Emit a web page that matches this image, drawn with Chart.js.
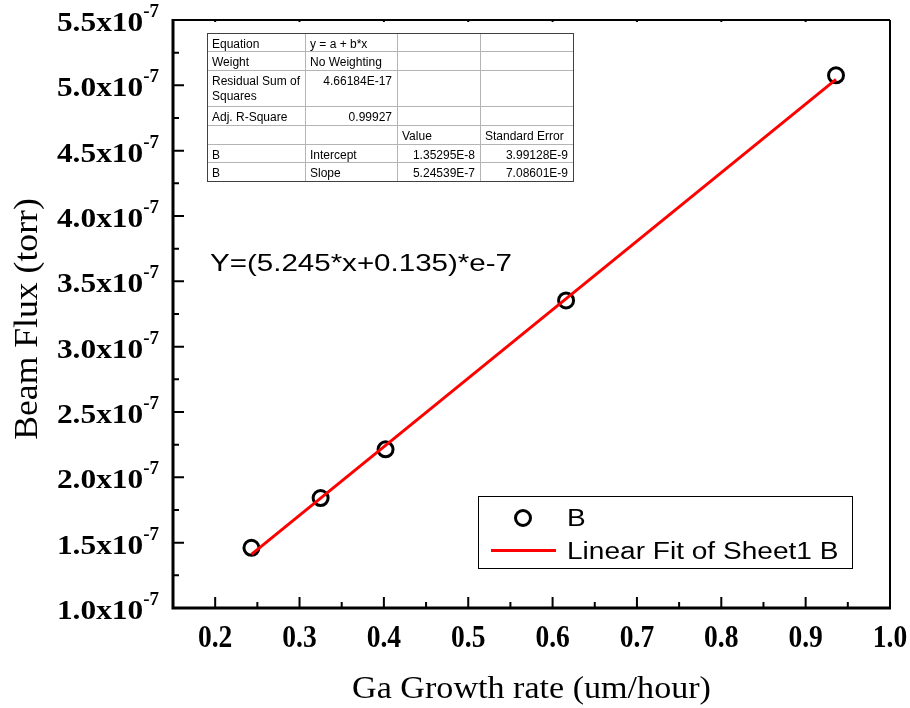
<!DOCTYPE html>
<html>
<head>
<meta charset="utf-8">
<title>Beam flux vs Ga growth rate</title>
<script src="https://cdn.jsdelivr.net/npm/chart.js@4/dist/chart.umd.min.js"></script>
<style>
  html, body { margin: 0; padding: 0; background: #fff; overflow: hidden; }
  canvas { display: block; }
</style>
</head>
<body>
<canvas id="fluxChart" width="910" height="708"></canvas>
<script>
// Ga growth rate (um/hour) and measured beam flux (in units of 1e-7 torr)
const growthRate = [0.243, 0.325, 0.402, 0.616, 0.936];
const beamFlux = [1.461, 1.841, 2.214, 3.354, 5.077];

// Linear fit parameters (1e-7 torr units)
const fitIntercept = 0.135295;
const fitSlope = 5.24539;

const xTicks = [0.2, 0.3, 0.4, 0.5, 0.6, 0.7, 0.8, 0.9, 1.0];
const yTicks = [1.0, 1.5, 2.0, 2.5, 3.0, 3.5, 4.0, 4.5, 5.0, 5.5];
const xTickLabels = ["0.2", "0.3", "0.4", "0.5", "0.6", "0.7", "0.8", "0.9", "1.0"];
const yTickLabels = ["1.0", "1.5", "2.0", "2.5", "3.0", "3.5", "4.0", "4.5", "5.0", "5.5"];

// Fit results table
const tableRows = [
    ["Equation", "y = a + b*x", "", ""],
    ["Weight", "No Weighting", "", ""],
    ["Residual Sum of\nSquares", "4.66184E-17", "", ""],
    ["Adj. R-Square", "0.99927", "", ""],
    ["", "", "Value", "Standard Error"],
    ["B", "Intercept", "1.35295E-8", "3.99128E-9"],
    ["B", "Slope", "5.24539E-7", "7.08601E-9"]
];
const tableRightAligned = [
    [false, false, false, false],
    [false, false, false, false],
    [false, true, false, false],
    [false, true, false, false],
    [false, false, false, false],
    [false, false, true, true],
    [false, false, true, true]
];

const SERIF = '"Liberation Serif", "Times New Roman", serif';
const SANS = '"Liberation Sans", Arial, sans-serif';

function drawText(ctx, text, x, y, font, align, sx) {
    ctx.save();
    ctx.font = font;
    ctx.translate(x, y);
    ctx.scale(sx || 1, 1);
    ctx.textAlign = align || "left";
    ctx.textBaseline = "alphabetic";
    ctx.fillStyle = "#000";
    ctx.fillText(text, 0, 0);
    ctx.restore();
}

function textWidth(ctx, text, font, sx) {
    ctx.save();
    ctx.font = font;
    const w = ctx.measureText(text).width * (sx || 1);
    ctx.restore();
    return w;
}

// Frame, inward ticks and axis labels
const framePlugin = {
    id: "frame",
    afterDatasetsDraw(chart) {
        const ctx = chart.ctx;
        const { left, right, top, bottom } = chart.chartArea;
        const xs = chart.scales.x, ys = chart.scales.y;

        ctx.save();
        ctx.strokeStyle = "#000";
        ctx.lineCap = "butt";

        // top and right edges are thinner
        ctx.lineWidth = 2;
        ctx.beginPath();
        ctx.moveTo(left, top); ctx.lineTo(right, top);
        ctx.moveTo(right, top); ctx.lineTo(right, bottom);
        ctx.stroke();

        ctx.lineWidth = 3;
        ctx.beginPath();
        ctx.moveTo(left, top - 1); ctx.lineTo(left, bottom + 1.5);
        ctx.moveTo(left - 1.5, bottom); ctx.lineTo(right + 1, bottom);
        ctx.stroke();

        // x ticks
        ctx.lineWidth = 2;
        ctx.beginPath();
        xTicks.forEach((v, i) => {
            const px = xs.getPixelForValue(v);
            ctx.moveTo(px, bottom); ctx.lineTo(px, bottom - 11);
            if (i < xTicks.length - 1) {
                const pm = xs.getPixelForValue(v + 0.05);
                ctx.moveTo(pm, bottom); ctx.lineTo(pm, bottom - 6);
            }
            ctx.moveTo(px, top); ctx.lineTo(px, top + 2);
        });
        // y ticks
        yTicks.forEach((v, i) => {
            const py = ys.getPixelForValue(v);
            ctx.moveTo(left, py); ctx.lineTo(left + 11, py);
            if (i < yTicks.length - 1) {
                const pm = ys.getPixelForValue(v + 0.25);
                ctx.moveTo(left, pm); ctx.lineTo(left + 6, pm);
            }
        });
        ctx.stroke();
        ctx.restore();

        // x tick labels (narrow, tall digits)
        xTicks.forEach((v, i) => {
            drawText(ctx, xTickLabels[i], xs.getPixelForValue(v), bottom + 39, "bold 32px " + SERIF, "center", 0.86);
        });

        // y tick labels: "d.dx10" with superscript -7
        const tickFont = "bold 28px " + SERIF;
        const supFont = "bold 19px " + SERIF;
        yTicks.forEach((v, i) => {
            const py = ys.getPixelForValue(v);
            const labelRight = left - 14;
            const supW = textWidth(ctx, "-7", supFont, 1);
            drawText(ctx, yTickLabels[i] + "x10", labelRight - supW, py + 11, tickFont, "right", 1.12);
            drawText(ctx, "-7", labelRight - supW, py - 3, supFont, "left", 1);
        });

        // axis titles
        drawText(ctx, "Ga Growth rate (um/hour)", (left + right) / 2, bottom + 90, "31px " + SERIF, "center", 1.1);
        ctx.save();
        ctx.translate(37, (top + bottom) / 2 + 5);
        ctx.rotate(-Math.PI / 2);
        drawText(ctx, "Beam Flux (torr)", 0, 0, "33px " + SERIF, "center", 1.08);
        ctx.restore();
    }
};

// Fit table, equation text and legend box
const annotationPlugin = {
    id: "annotations",
    afterDraw(chart) {
        const ctx = chart.ctx;
        const colX = [207, 305, 397, 480, 573];
        const rowY = [33, 51, 70, 106, 125, 144, 162, 181];
        const tFont = "12px " + SANS;

        ctx.save();
        ctx.fillStyle = "#fff";
        ctx.fillRect(colX[0], rowY[0], colX[4] - colX[0], rowY[7] - rowY[0]);
        ctx.strokeStyle = "#b4b4b4";
        ctx.lineWidth = 1;
        ctx.beginPath();
        rowY.forEach(y => { ctx.moveTo(colX[0], y + 0.5); ctx.lineTo(colX[4], y + 0.5); });
        colX.forEach(x => { ctx.moveTo(x + 0.5, rowY[0]); ctx.lineTo(x + 0.5, rowY[7]); });
        ctx.stroke();
        ctx.strokeStyle = "#404040";
        ctx.strokeRect(colX[0] + 0.5, rowY[0] + 0.5, colX[4] - colX[0], rowY[7] - rowY[0]);
        ctx.restore();

        tableRows.forEach((row, r) => {
            row.forEach((cell, c) => {
                if (!cell) return;
                const lines = cell.split("\n");
                lines.forEach((line, k) => {
                    const y = rowY[r] + 14.5 + k * 15;
                    if (tableRightAligned[r][c]) {
                        drawText(ctx, line, colX[c + 1] - 5, y, tFont, "right", 1);
                    } else {
                        drawText(ctx, line, colX[c] + 5, y, tFont, "left", 1);
                    }
                });
            });
        });

        // fitted equation
        drawText(ctx, "Y=(5.245*x+0.135)*e-7", 210, 271, "24px " + SANS, "left", 1.23);

        // legend
        const pts = chart.data.datasets[0], fit = chart.data.datasets[1];
        ctx.save();
        ctx.fillStyle = "#fff";
        ctx.fillRect(478, 496, 374, 72);
        ctx.strokeStyle = "#000";
        ctx.lineWidth = 1;
        ctx.strokeRect(478.5, 496.5, 374, 72);

        ctx.strokeStyle = pts.borderColor;
        ctx.lineWidth = pts.pointBorderWidth;
        ctx.beginPath();
        ctx.arc(523, 518, pts.pointRadius, 0, Math.PI * 2);
        ctx.stroke();

        ctx.strokeStyle = fit.borderColor;
        ctx.lineWidth = fit.borderWidth;
        ctx.beginPath();
        ctx.moveTo(491, 550.5); ctx.lineTo(556, 550.5);
        ctx.stroke();
        ctx.restore();

        const lFont = "23px " + SANS;
        drawText(ctx, pts.label, 567, 526, lFont, "left", 1.22);
        drawText(ctx, fit.label, 567, 559, lFont, "left", 1.22);
    }
};

const points = growthRate.map((x, i) => ({ x: x, y: beamFlux[i] }));
const xFirst = growthRate[0], xLast = growthRate[growthRate.length - 1];
const fitLine = [
    { x: xFirst, y: fitIntercept + fitSlope * xFirst },
    { x: xLast, y: fitIntercept + fitSlope * xLast }
];

const ctx = document.getElementById("fluxChart").getContext("2d");
new Chart(ctx, {
    type: "scatter",
    data: {
        datasets: [{
            label: "B",
            data: points,
            pointStyle: "circle",
            pointRadius: 7.5,
            pointBorderWidth: 3,
            borderColor: "#000",
            backgroundColor: "rgba(0,0,0,0)",
            pointBackgroundColor: "rgba(0,0,0,0)",
            pointBorderColor: "#000",
            order: 1
        }, {
            label: "Linear Fit of Sheet1 B",
            type: "line",
            data: fitLine,
            showLine: true,
            borderColor: "#ff0000",
            borderWidth: 3,
            pointRadius: 0,
            fill: false,
            order: 0
        }]
    },
    options: {
        responsive: false,
        animation: false,
        devicePixelRatio: 1,
        layout: { padding: { left: 173, top: 20, right: 20, bottom: 100 } },
        scales: {
            x: { type: "linear", min: 0.15, max: 1.0, display: false },
            y: { type: "linear", min: 1.0, max: 5.5, display: false }
        },
        plugins: {
            legend: { display: false },
            tooltip: { enabled: false }
        }
    },
    plugins: [framePlugin, annotationPlugin]
});
</script>
</body>
</html>
